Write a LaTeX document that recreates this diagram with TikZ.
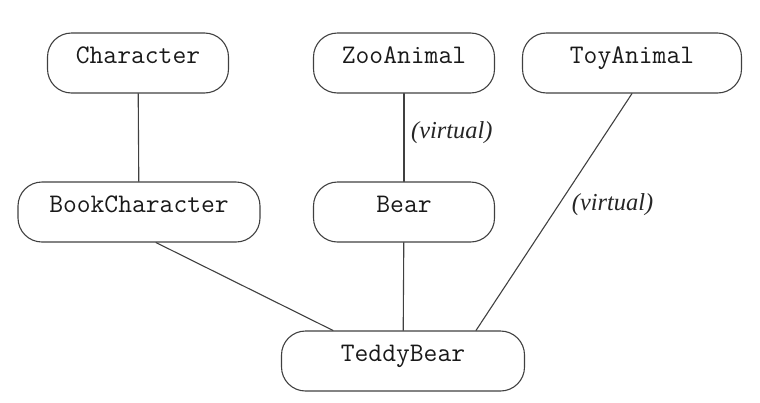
\documentclass[tikz,border=0pt]{standalone}
\usepackage{fontspec}
\setmainfont{Liberation Serif}
\begin{document}
\begin{tikzpicture}[x=0.5pt,y=-0.5pt,line join=round,line cap=round,
  font=\fontsize{13.4}{15}\selectfont\ttfamily,
  cls/.style={draw=black!75,line width=0.55pt,rounded corners=12pt,minimum height=30pt,inner sep=0pt,text height=8pt,text depth=8pt,text=black!90},
  virt/.style={font=\fontsize{12.2}{14}\selectfont\rmfamily\itshape,text=black!85},
  link/.style={draw=black!75,line width=0.55pt}]
\useasboundingbox (0,0) rectangle (760,402);
\path
(138,63) node[cls,minimum width=90.5pt] (Character) {Character}
(404,63) node[cls,minimum width=90.5pt] (ZooAnimal) {ZooAnimal}
(632,63) node[cls,minimum width=109.5pt] (ToyAnimal) {ToyAnimal}
(139,212) node[cls,minimum width=121pt] (BookCharacter) {BookCharacter}
(404,212) node[cls,minimum width=90.5pt] (Bear) {Bear}
(403,361) node[cls,minimum width=121.5pt] (TeddyBear) {TeddyBear}
;
%
\draw[link] (Character)--(BookCharacter);
\draw[link] (ZooAnimal)--(Bear) node[virt,pos=0.45,right]{(virtual)};
\draw[link] (Bear)--(TeddyBear);
\draw[link] ([xshift=8.5pt]BookCharacter.south)--([xshift=-35pt]TeddyBear.north);
\draw[link] (ToyAnimal.south)--([xshift=36.5pt]TeddyBear.north) node[virt,pos=0.47,right,xshift=3pt]{(virtual)};
\end{tikzpicture}
\end{document}
